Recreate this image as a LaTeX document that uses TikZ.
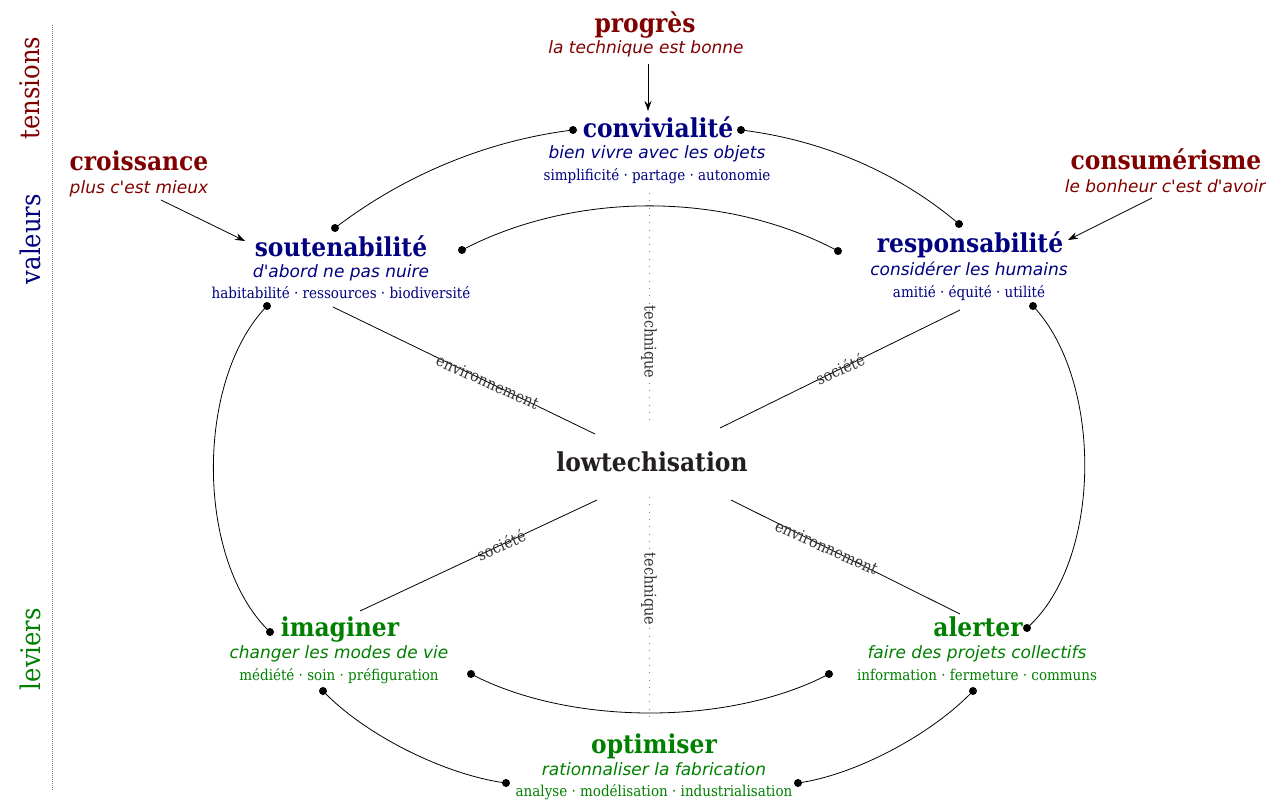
\documentclass[tikz,border=0pt]{standalone}
\usepackage{fontspec}
\usetikzlibrary{arrows.meta}
\newfontfamily\serc{DejaVu Serif Condensed}
\newfontfamily\sansit{DejaVu Sans}
\definecolor{tred}{HTML}{800000}
\definecolor{vblue}{HTML}{000080}
\definecolor{lgreen}{HTML}{008000}
\definecolor{ink}{HTML}{231F20}
\definecolor{lbl}{HTML}{333333}
\tikzset{
  ttl/.style={inner sep=0pt, anchor=base, font=\serc\bfseries\fontsize{26}{26}\selectfont},
  sub/.style={inner sep=0pt, anchor=base, font=\sansit\itshape\fontsize{17}{17}\selectfont},
  keys/.style={inner sep=0pt, anchor=base, font=\serc\fontsize{15}{15}\selectfont},
  side/.style={inner sep=0pt, rotate=90, font=\serc\fontsize{27}{27}\selectfont},
  link/.style={line width=0.8pt, black},
  spoke/.style={line width=0.8pt, black},
  dotline/.style={line width=1pt, gray, dash pattern=on 0.8pt off 6.5pt},
  spl/.style={inner sep=0pt, font=\serc\fontsize{16}{16}\selectfont, text=lbl},
  push/.style={line width=0.8pt, -{Stealth[length=10pt,width=7pt]}},
  dotr/.style={fill=black}
}
\begin{document}
\begin{tikzpicture}[x=1pt,y=-1pt]
\useasboundingbox (0,0) rectangle (1271,800);
% side scale
\draw[gray, line width=0.7pt, dash pattern=on 0.7pt off 1.3pt] (52,25) -- (52,790);
\node[side, text=tred] (ltens) at (30,88) {tensions};
\node[side, text=vblue] (lval) at (30,239) {valeurs};
\node[side, text=lgreen] (llev) at (30,649) {leviers};

% tensions
\node[ttl, text=tred] (prog) at (645,33) {progrès};
\node[sub, text=tred] (progs) at (646,54) {la technique est bonne};
\node[ttl, text=tred] (crois) at (139,170) {croissance};
\node[sub, text=tred] (croiss) at (139,193) {plus c'est mieux};
\node[ttl, text=tred] (cons) at (1166,169) {consumérisme};
\node[sub, text=tred] (conss) at (1165,192) {le bonheur c'est d'avoir};

% valeurs
\node[ttl, text=vblue] (conv) at (658,137) {convivialité};
\node[sub, text=vblue] (convs) at (657,158) {bien vivre avec les objets};
\node[keys, text=vblue] (convk) at (657,180) {simplificité · partage · autonomie};
\node[ttl, text=vblue] (sout) at (341,256) {soutenabilité};
\node[sub, text=vblue] (souts) at (341,277) {d'abord ne pas nuire};
\node[keys, text=vblue] (soutk) at (341,298) {habitabilité · ressources · biodiversité};
\node[ttl, text=vblue] (resp) at (970,252) {responsabilité};
\node[sub, text=vblue] (resps) at (969,275) {considérer les humains};
\node[keys, text=vblue] (respk) at (969,297) {amitié · équité · utilité};

% centre
\node[ttl, text=ink] (low) at (652,471) {lowtechisation};

% leviers
\node[ttl, text=lgreen] (imag) at (340,636) {imaginer};
\node[sub, text=lgreen] (imags) at (339,658) {changer les modes de vie};
\node[keys, text=lgreen] (imagk) at (339,680) {médiété · soin · préfiguration};
\node[ttl, text=lgreen] (alert) at (978,636) {alerter};
\node[sub, text=lgreen] (alerts) at (977,658) {faire des projets collectifs};
\node[keys, text=lgreen] (alertk) at (977,680) {information · fermeture · communs};
\node[ttl, text=lgreen] (opt) at (654,753) {optimiser};
\node[sub, text=lgreen] (opts) at (654,775) {rationnaliser la fabrication};
\node[keys, text=lgreen] (optk) at (654,796) {analyse · modélisation · industrialisation};

% pressure arrows
\coordinate (pa1) at (648,64); \coordinate (pa2) at (648,111);
\coordinate (pb1) at (161,200); \coordinate (pb2) at (245,241);
\coordinate (pc1) at (1152,198); \coordinate (pc2) at (1068,240);
\draw[push] (pa1) -- (pa2);
\draw[push] (pb1) -- (pb2);
\draw[push] (pc1) -- (pc2);

% link end points
\coordinate (cvL) at (573,130); \coordinate (cvR) at (741,130);
\coordinate (soT) at (335,228); \coordinate (soR) at (462,250); \coordinate (soB) at (267,306);
\coordinate (reT) at (959,224); \coordinate (reL) at (838,251); \coordinate (reB) at (1033,306);
\coordinate (imT) at (270,632); \coordinate (imR) at (471,674); \coordinate (imB) at (323,691);
\coordinate (alT) at (1027,628); \coordinate (alL) at (829,674); \coordinate (alB) at (973,691);
\coordinate (opL) at (506,783); \coordinate (opR) at (798,783);

\draw[link] (cvL) .. controls (483,141) and (400,178) .. (soT);
\draw[link] (cvR) .. controls (831,141) and (905,178) .. (reT);
\draw[link] (soR) .. controls (575,191) and (725,191) .. (reL);
\draw[link] (soB) .. controls (195,380) and (195,560) .. (imT);
\draw[link] (reB) .. controls (1103,380) and (1103,560) .. (alT);
\draw[link] (imR) .. controls (570,726) and (730,726) .. (alL);
\draw[link] (imB) .. controls (365,735) and (445,775) .. (opL);
\draw[link] (alB) .. controls (931,735) and (855,775) .. (opR);
\foreach \p in {cvL,cvR,soT,soR,soB,reT,reL,reB,imT,imR,imB,alT,alL,alB,opL,opR}
  \fill[dotr] (\p) circle (4pt);

% spokes
\coordinate (s1a) at (595,434); \coordinate (s1b) at (333,307);
\coordinate (s2a) at (720,428); \coordinate (s2b) at (960,310);
\coordinate (s3a) at (597,500); \coordinate (s3b) at (360,611);
\coordinate (s4a) at (731,500); \coordinate (s4b) at (960,614);
\coordinate (t1a) at (649,193); \coordinate (t1b) at (649,420);
\coordinate (t2a) at (649,497); \coordinate (t2b) at (649,720);
\draw[spoke] (s1a) -- node[spl, pos=0.41, rotate=-24] (l1) {environnement} (s1b);
\draw[spoke] (s2a) -- node[spl, pos=0.5, rotate=24] (l2) {société} (s2b);
\draw[spoke] (s3a) -- node[spl, pos=0.405, rotate=24] (l3) {société} (s3b);
\draw[spoke] (s4a) -- node[spl, pos=0.417, rotate=-24] (l4) {environnement} (s4b);
\draw[dotline] (t1a) -- (t1b);
\draw[dotline] (t2a) -- (t2b);
\node[spl, rotate=-90] (l5) at (649,342) {technique};
\node[spl, rotate=-90] (l6) at (649,589) {technique};
\end{tikzpicture}
\end{document}
